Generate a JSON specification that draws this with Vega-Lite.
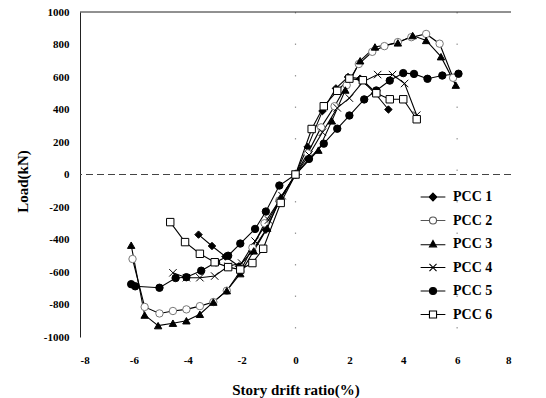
{
  "$schema": "https://vega.github.io/schema/vega-lite/v6.json",
  "width": 431,
  "height": 325,
  "autosize": "none",
  "padding": {"left": 80, "top": 12, "right": 35, "bottom": 61},
  "background": "white",
  "config": {"view": {"stroke": null}, "font": "Liberation Serif", "axis": {"labelOverlap": false},
    "axisX": {"domain": false, "ticks": false, "grid": false, "labelFont": "Liberation Serif", "labelFontWeight": "bold", "labelFontSize": 11, "labelColor": "black", "labelPadding": 17, "titleFont": "Liberation Serif", "titleFontWeight": "bold", "titleFontSize": 15, "titleColor": "black", "titlePadding": 17, "labelOverlap": false},
    "axisY": {"domain": true, "domainColor": "#222", "ticks": false, "grid": false, "labelFont": "Liberation Serif", "labelFontWeight": "bold", "labelFontSize": 11, "labelColor": "black", "labelPadding": 11, "titleFont": "Liberation Serif", "titleFontWeight": "bold", "titleFontSize": 15, "titleColor": "black", "titlePadding": 13, "titleY": 169, "labelOverlap": false}},
  "datasets": {
    "curves": [
      {"s": "PCC 1", "x": -3.6, "y": -370}, {"s": "PCC 1", "x": -3.1, "y": -440}, {"s": "PCC 1", "x": -2.6, "y": -505}, {"s": "PCC 1", "x": -2.1, "y": -565}, {"s": "PCC 1", "x": -1.6, "y": -470}, {"s": "PCC 1", "x": -1.1, "y": -340}, {"s": "PCC 1", "x": -0.6, "y": -165}, {"s": "PCC 1", "x": 0, "y": 0}, {"s": "PCC 1", "x": 0.45, "y": 170}, {"s": "PCC 1", "x": 1.0, "y": 390}, {"s": "PCC 1", "x": 1.5, "y": 530}, {"s": "PCC 1", "x": 1.95, "y": 600}, {"s": "PCC 1", "x": 2.4, "y": 590}, {"s": "PCC 1", "x": 2.95, "y": 500}, {"s": "PCC 1", "x": 3.45, "y": 400},
      {"s": "PCC 2", "x": -6.05, "y": -520}, {"s": "PCC 2", "x": -5.6, "y": -815}, {"s": "PCC 2", "x": -5.05, "y": -855}, {"s": "PCC 2", "x": -4.55, "y": -840}, {"s": "PCC 2", "x": -4.05, "y": -830}, {"s": "PCC 2", "x": -3.55, "y": -810}, {"s": "PCC 2", "x": -3.05, "y": -785}, {"s": "PCC 2", "x": -2.55, "y": -715}, {"s": "PCC 2", "x": -2.05, "y": -595}, {"s": "PCC 2", "x": -1.6, "y": -450}, {"s": "PCC 2", "x": -1.15, "y": -300}, {"s": "PCC 2", "x": -0.6, "y": -160}, {"s": "PCC 2", "x": 0, "y": 0}, {"s": "PCC 2", "x": 0.45, "y": 130}, {"s": "PCC 2", "x": 0.95, "y": 290}, {"s": "PCC 2", "x": 1.45, "y": 420}, {"s": "PCC 2", "x": 1.9, "y": 550}, {"s": "PCC 2", "x": 2.35, "y": 680}, {"s": "PCC 2", "x": 2.85, "y": 755}, {"s": "PCC 2", "x": 3.3, "y": 790}, {"s": "PCC 2", "x": 3.8, "y": 815}, {"s": "PCC 2", "x": 4.3, "y": 845}, {"s": "PCC 2", "x": 4.85, "y": 865}, {"s": "PCC 2", "x": 5.35, "y": 805}, {"s": "PCC 2", "x": 5.85, "y": 595},
      {"s": "PCC 3", "x": -6.1, "y": -435}, {"s": "PCC 3", "x": -5.6, "y": -865}, {"s": "PCC 3", "x": -5.1, "y": -930}, {"s": "PCC 3", "x": -4.55, "y": -915}, {"s": "PCC 3", "x": -4.05, "y": -900}, {"s": "PCC 3", "x": -3.55, "y": -860}, {"s": "PCC 3", "x": -3.05, "y": -785}, {"s": "PCC 3", "x": -2.55, "y": -715}, {"s": "PCC 3", "x": -2.05, "y": -610}, {"s": "PCC 3", "x": -1.55, "y": -470}, {"s": "PCC 3", "x": -1.05, "y": -330}, {"s": "PCC 3", "x": -0.55, "y": -140}, {"s": "PCC 3", "x": 0, "y": 0}, {"s": "PCC 3", "x": 0.85, "y": 150}, {"s": "PCC 3", "x": 1.35, "y": 330}, {"s": "PCC 3", "x": 1.85, "y": 520}, {"s": "PCC 3", "x": 2.4, "y": 700}, {"s": "PCC 3", "x": 2.95, "y": 785}, {"s": "PCC 3", "x": 3.8, "y": 810}, {"s": "PCC 3", "x": 4.35, "y": 855}, {"s": "PCC 3", "x": 4.85, "y": 825}, {"s": "PCC 3", "x": 5.4, "y": 725}, {"s": "PCC 3", "x": 5.95, "y": 550},
      {"s": "PCC 4", "x": -4.55, "y": -605}, {"s": "PCC 4", "x": -4.05, "y": -635}, {"s": "PCC 4", "x": -3.55, "y": -635}, {"s": "PCC 4", "x": -3.0, "y": -625}, {"s": "PCC 4", "x": -2.5, "y": -565}, {"s": "PCC 4", "x": -2.0, "y": -545}, {"s": "PCC 4", "x": -1.5, "y": -410}, {"s": "PCC 4", "x": -1.0, "y": -280}, {"s": "PCC 4", "x": -0.5, "y": -130}, {"s": "PCC 4", "x": 0, "y": 0}, {"s": "PCC 4", "x": 0.5, "y": 120}, {"s": "PCC 4", "x": 1.0, "y": 260}, {"s": "PCC 4", "x": 1.55, "y": 410}, {"s": "PCC 4", "x": 2.0, "y": 470}, {"s": "PCC 4", "x": 2.5, "y": 570}, {"s": "PCC 4", "x": 3.05, "y": 615}, {"s": "PCC 4", "x": 3.6, "y": 615}, {"s": "PCC 4", "x": 4.05, "y": 560}, {"s": "PCC 4", "x": 4.5, "y": 365},
      {"s": "PCC 5", "x": -6.1, "y": -675}, {"s": "PCC 5", "x": -5.95, "y": -688}, {"s": "PCC 5", "x": -5.05, "y": -697}, {"s": "PCC 5", "x": -4.45, "y": -637}, {"s": "PCC 5", "x": -4.05, "y": -632}, {"s": "PCC 5", "x": -3.5, "y": -592}, {"s": "PCC 5", "x": -2.95, "y": -540}, {"s": "PCC 5", "x": -2.5, "y": -500}, {"s": "PCC 5", "x": -2.05, "y": -425}, {"s": "PCC 5", "x": -1.5, "y": -335}, {"s": "PCC 5", "x": -1.1, "y": -228}, {"s": "PCC 5", "x": -0.6, "y": -68}, {"s": "PCC 5", "x": 0, "y": 0}, {"s": "PCC 5", "x": 0.5, "y": 96}, {"s": "PCC 5", "x": 1.05, "y": 190}, {"s": "PCC 5", "x": 1.55, "y": 282}, {"s": "PCC 5", "x": 2.0, "y": 363}, {"s": "PCC 5", "x": 2.55, "y": 462}, {"s": "PCC 5", "x": 3.0, "y": 517}, {"s": "PCC 5", "x": 3.5, "y": 578}, {"s": "PCC 5", "x": 4.0, "y": 624}, {"s": "PCC 5", "x": 4.4, "y": 619}, {"s": "PCC 5", "x": 4.9, "y": 589}, {"s": "PCC 5", "x": 5.45, "y": 609}, {"s": "PCC 5", "x": 6.05, "y": 620},
      {"s": "PCC 6", "x": -4.65, "y": -293}, {"s": "PCC 6", "x": -4.1, "y": -416}, {"s": "PCC 6", "x": -3.55, "y": -488}, {"s": "PCC 6", "x": -3.0, "y": -540}, {"s": "PCC 6", "x": -2.5, "y": -570}, {"s": "PCC 6", "x": -2.05, "y": -585}, {"s": "PCC 6", "x": -1.6, "y": -545}, {"s": "PCC 6", "x": -1.2, "y": -457}, {"s": "PCC 6", "x": -0.55, "y": -175}, {"s": "PCC 6", "x": 0, "y": 0}, {"s": "PCC 6", "x": 0.6, "y": 280}, {"s": "PCC 6", "x": 1.05, "y": 420}, {"s": "PCC 6", "x": 1.55, "y": 515}, {"s": "PCC 6", "x": 2.0, "y": 590}, {"s": "PCC 6", "x": 2.5, "y": 580}, {"s": "PCC 6", "x": 3.0, "y": 500}, {"s": "PCC 6", "x": 3.5, "y": 463}, {"s": "PCC 6", "x": 4.0, "y": 463}, {"s": "PCC 6", "x": 4.5, "y": 340}
    ],
    "vlines": [{"x": 0}, {"x": 6}],
    "hlines": [{"y": 0}],
    "tops": [{"y": 1000}]
  },
  "resolve": {"scale": {"shape": "independent", "fill": "independent", "stroke": "independent"}},
  "layer": [
    {
      "data": {"name": "curves"},
      "mark": {"type": "line", "color": "black", "strokeWidth": 1.1},
      "encoding": {
        "x": {"field": "x", "type": "quantitative", "scale": {"domain": [-8, 8], "nice": false},
          "axis": {"title": "Story drift ratio(%)", "values": [-8, -6, -4, -2, 0, 2, 4, 6, 8], "labelExpr": "'' + datum.value", "labelOverlap": false}},
        "y": {"field": "y", "type": "quantitative", "scale": {"domain": [-1000, 1000], "nice": false},
          "axis": {"title": "Load(kN)", "values": [-1000, -800, -600, -400, -200, 0, 200, 400, 600, 800, 1000], "labelExpr": "'' + datum.value", "labelOverlap": false}},
        "detail": {"field": "s", "type": "nominal"}
      }
    },
    {
      "data": {"name": "vlines"},
      "mark": {"type": "rule", "color": "#999", "strokeWidth": 1.2, "strokeDash": [1.5, 30]},
      "encoding": {
        "x": {"field": "x", "type": "quantitative",
          "axis": {"title": "Story drift ratio(%)", "values": [-8, -6, -4, -2, 0, 2, 4, 6, 8], "labelExpr": "'' + datum.value", "labelOverlap": false}}
      }
    },
    {
      "data": {"name": "hlines"},
      "mark": {"type": "rule", "color": "#444", "strokeWidth": 1, "strokeDash": [7, 4]},
      "encoding": {
        "y": {"field": "y", "type": "quantitative",
          "axis": {"title": "Load(kN)", "values": [-1000, -800, -600, -400, -200, 0, 200, 400, 600, 800, 1000], "labelExpr": "'' + datum.value", "labelOverlap": false}}
      }
    },
    {
      "data": {"name": "tops"},
      "mark": {"type": "rule", "color": "#222", "strokeWidth": 1},
      "encoding": {
        "y": {"field": "y", "type": "quantitative",
          "axis": {"title": "Load(kN)", "values": [-1000, -800, -600, -400, -200, 0, 200, 400, 600, 800, 1000], "labelExpr": "'' + datum.value", "labelOverlap": false}}
      }
    },
    {
      "data": {"name": "curves"},
      "mark": {"type": "point", "opacity": 1, "strokeWidth": 1, "size": 55},
      "encoding": {
        "x": {"field": "x", "type": "quantitative",
          "axis": {"title": "Story drift ratio(%)", "values": [-8, -6, -4, -2, 0, 2, 4, 6, 8], "labelExpr": "'' + datum.value", "labelOverlap": false}},
        "y": {"field": "y", "type": "quantitative",
          "axis": {"title": "Load(kN)", "values": [-1000, -800, -600, -400, -200, 0, 200, 400, 600, 800, 1000], "labelExpr": "'' + datum.value", "labelOverlap": false}},
        "shape": {"field": "s", "type": "nominal", "legend": null,
          "scale": {"domain": ["PCC 1", "PCC 2", "PCC 3", "PCC 4", "PCC 5", "PCC 6"], "range": ["diamond", "circle", "triangle-up", "M-1,-1L1,1M-1,1L1,-1", "circle", "square"]}},
        "fill": {"field": "s", "type": "nominal", "legend": null,
          "scale": {"domain": ["PCC 1", "PCC 2", "PCC 3", "PCC 4", "PCC 5", "PCC 6"], "range": ["black", "white", "black", "white", "black", "white"]}},
        "stroke": {"field": "s", "type": "nominal", "legend": null,
          "scale": {"domain": ["PCC 1", "PCC 2", "PCC 3", "PCC 4", "PCC 5", "PCC 6"], "range": ["black", "#777", "black", "black", "black", "black"]}}
      }
    },
    {
      "data": {"name": "curves"},
      "transform": [{"filter": "false"}],
      "mark": {"type": "point", "opacity": 1, "strokeWidth": 1.1, "size": 50},
      "encoding": {
        "x": {"field": "x", "type": "quantitative",
          "axis": {"title": "Story drift ratio(%)", "values": [-8, -6, -4, -2, 0, 2, 4, 6, 8], "labelExpr": "'' + datum.value", "labelOverlap": false}},
        "y": {"field": "y", "type": "quantitative",
          "axis": {"title": "Load(kN)", "values": [-1000, -800, -600, -400, -200, 0, 200, 400, 600, 800, 1000], "labelExpr": "'' + datum.value", "labelOverlap": false}},
        "shape": {"field": "s", "type": "nominal",
          "scale": {"domain": ["PCC 1", "PCC 2", "PCC 3", "PCC 4", "PCC 5", "PCC 6"], "range": ["M-3.5,0H3.5M0,-1.1L1.1,0L0,1.1L-1.1,0Z", "M-3.5,0H-1M1,0H3.5M-1,0A1,1,0,1,0,1,0A1,1,0,1,0,-1,0", "M-3.5,0.2H3.5M0,-1L1,0.8H-1Z", "M-3.5,0H3.5M-1,-1L1,1M-1,1L1,-1", "M-3.5,0H3.5M-1,0A1,1,0,1,0,1,0A1,1,0,1,0,-1,0", "M-3.5,0H-1M1,0H3.5M-1,-1H1V1H-1Z"]},
          "legend": {"title": null, "orient": "none", "legendX": 346, "legendY": 178, "symbolSize": 50, "symbolStrokeWidth": 1.1, "symbolOpacity": 1, "labelOffset": 13, "rowPadding": 9.5,
            "labelFont": "Liberation Serif", "labelFontWeight": "bold", "labelFontSize": 14, "labelColor": "black"}},
        "fill": {"field": "s", "type": "nominal",
          "scale": {"domain": ["PCC 1", "PCC 2", "PCC 3", "PCC 4", "PCC 5", "PCC 6"], "range": ["black", "white", "black", "white", "black", "white"]}},
        "stroke": {"field": "s", "type": "nominal",
          "scale": {"domain": ["PCC 1", "PCC 2", "PCC 3", "PCC 4", "PCC 5", "PCC 6"], "range": ["black", "#555", "black", "black", "black", "black"]}}
      }
    }
  ]
}
